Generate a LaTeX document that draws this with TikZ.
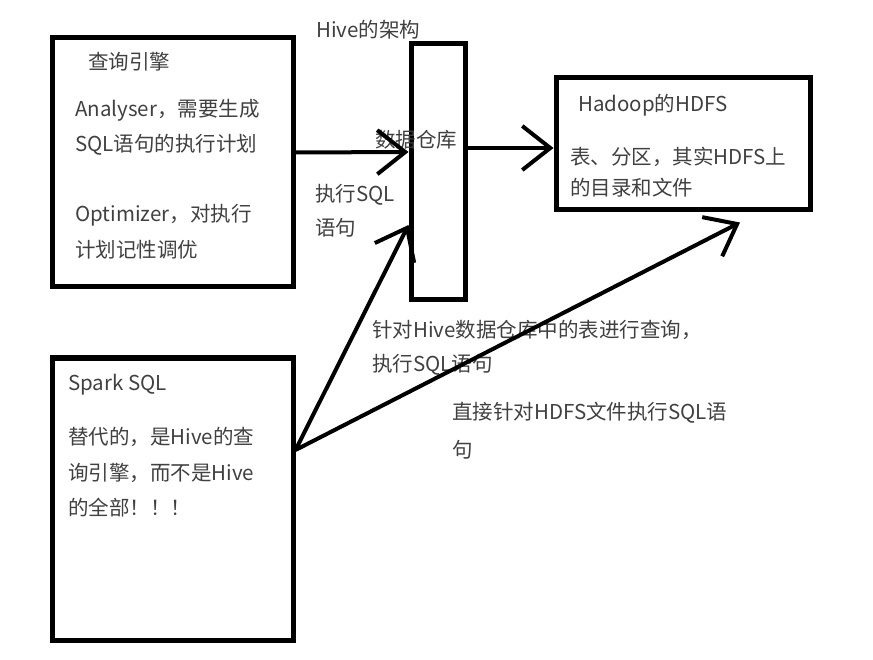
\documentclass[tikz,border=0pt]{standalone}
\usepackage{fontspec}
\setmainfont{Noto Sans CJK SC}
\usetikzlibrary{arrows.meta}
\tikzset{
  box/.style={draw, line width=5pt, minimum width=#1, inner sep=0pt},
  txt/.style={anchor=west, inner sep=0pt, text=black!75, font=\fontsize{20.5}{22}\selectfont},
  arr/.style={line width=4pt, -{Straight Barb[length=28pt, width=44pt]}}
}

\begin{document}
\begin{tikzpicture}[x=1pt, y=-1pt]
\useasboundingbox (0,0) rectangle (873,660);
% boxes
\node[box=241pt, minimum height=249pt] (qe) at (172.5,162.5) {};
\node[box=54pt, minimum height=256pt] (dw) at (438,172) {};
\node[box=254pt, minimum height=132pt] (hdfs) at (683,144) {};
\node[box=241pt, minimum height=282pt] (spark) at (172.5,499) {};
% texts in boxes
\node[txt] (t1) at (88,62) {查询引擎};
\node[txt] (t2) at (75,110) {Analyser，需要生成};
\node[txt] (t3) at (75,145) {SQL语句的执行计划};
\node[txt] (t4) at (75,215) {Optimizer，对执行};
\node[txt] (t5) at (75,250) {计划记性调优};
\node[txt] (h1) at (578,105) {Hadoop的HDFS};
\node[txt] (h2) at (570,157) {表、分区，其实HDFS上};
\node[txt] (h3) at (570,188) {的目录和文件};
\node[txt] (s1) at (68,385) {Spark SQL};
\node[txt] (s2) at (68,437) {替代的，是Hive的查};
\node[txt] (s3) at (68,473) {询引擎，而不是Hive};
\node[txt] (s4) at (68,508) {的全部！！！};
% labels
\node[txt] (title) at (316,30) {Hive的架构};
\node[txt] (dwl) at (375,140) {数据仓库};
\node[txt] (e1) at (315,195) {执行SQL};
\node[txt] (e2) at (315,228) {语句};
\node[txt] (q1) at (372,330) {针对Hive数据仓库中的表进行查询，};
\node[txt] (q2) at (372,365) {执行SQL语句};
\node[txt] (d1) at (452,413) {直接针对HDFS文件执行SQL语};
\node[txt] (d2) at (452,450) {句};
% arrows
\draw[arr] ([yshift=10pt]qe.east) -- ([yshift=20pt]dw.west);
\draw[arr] ([yshift=24pt]dw.east) -- ([yshift=-4pt]hdfs.west);
\draw[arr] ([yshift=49pt]spark.east) -- ([yshift=-53pt]dw.west);
\draw[arr] ([yshift=49pt]spark.east) -- ([xshift=57pt, yshift=-10pt]hdfs.south);
\end{tikzpicture}
\end{document}
